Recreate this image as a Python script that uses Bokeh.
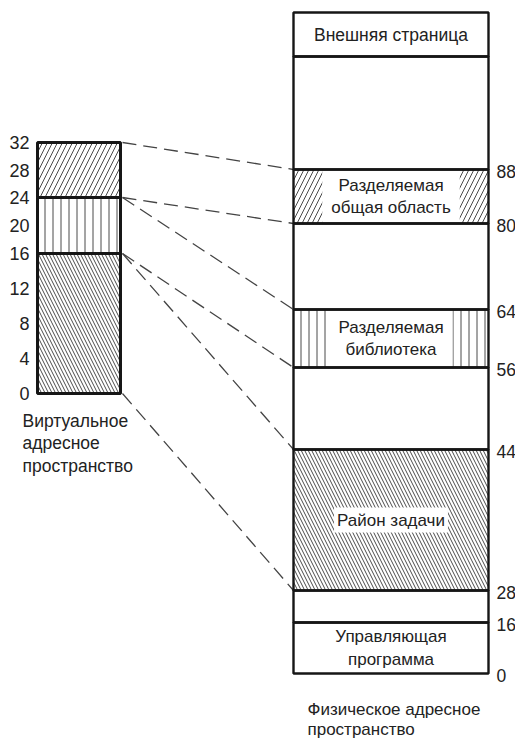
import numpy as np
from bokeh.plotting import figure
from bokeh.models import Range1d
from bokeh.core.properties import value
from bokeh.embed import file_html
from bokeh.resources import INLINE

# ---------------- data ----------------
virt_ticks = [0, 4, 8, 12, 16, 20, 24, 28, 32]
virt_starts = [0, 16, 24]
virt_ends = [16, 24, 32]
virt_hatch = ["\\", "|", "/"]

phys_ticks = [0, 16, 28, 44, 56, 64, 80, 88]
phys_starts = [0, 16, 28, 44, 56, 64, 80]
phys_ends = [16, 28, 44, 56, 64, 80, 88]
phys_labels = ["Управляющая\nпрограмма", "", "Район задачи", "",
               "Разделяемая\nбиблиотека", "", "Разделяемая\nобщая область"]
phys_hatch = [" ", " ", "\\", " ", "|", " ", "/"]
upper_labels = ["", "Внешняя страница"]      # blocks above address 88

map_virt = [32, 24, 24, 16, 16, 0]           # virtual address ...
map_phys = [88, 80, 64, 56, 44, 28]          # ... mapped onto physical address

virt_title = "Виртуальное\nадресное\nпространство"
phys_title = "Физическое адресное\nпространство"

# ---------------- layout (schematic, not to scale) ----------------
W, H = 515, 744
VX0, VX1 = 37, 120
PX0, PX1 = 293, 488
VIRT_IN, VIRT_OUT = [0, 16, 24, 32], [393, 253, 197, 142]
PHYS_IN = [0, 16, 28, 44, 56, 64, 80, 88]
PHYS_OUT = [673, 622, 590, 449, 367, 309, 223, 169]
UPPER_HEIGHTS = [113, 44]
HATCH_SCALE = {"\\": 7, "/": 10, "|": 8, " ": 8}
FONT = value("Liberation Sans")
INK = "#161616"
TXT = "#222222"


def vy(a):
    return list(np.interp(a, VIRT_IN, VIRT_OUT))


def py(a):
    return list(np.interp(a, PHYS_IN, PHYS_OUT))


p = figure(width=W, height=H, output_backend="svg", toolbar_location=None,
           x_range=Range1d(0, W), y_range=Range1d(H, 0),
           min_border=0, outline_line_color=None)
p.axis.visible = False
p.grid.visible = False
p.background_fill_color = "white"
p.border_fill_color = "white"

# dashed mapping lines
p.segment(x0=[VX1 + 2] * len(map_virt), y0=vy(map_virt),
          x1=[PX0] * len(map_phys), y1=py(map_phys),
          line_color="#444444", line_width=1.3, line_dash="14 7")

# virtual column
for s, e, hp in zip(virt_starts, virt_ends, virt_hatch):
    p.quad(left=[VX0], right=[VX1], top=vy([e]), bottom=vy([s]),
           fill_color="white", line_color=None, hatch_pattern=hp,
           hatch_color="#4a4a4a", hatch_weight=1.0, hatch_scale=HATCH_SCALE[hp])
p.quad(left=[VX0] * 3, right=[VX1] * 3, top=vy(virt_ends), bottom=vy(virt_starts),
       fill_color=None, line_color=INK, line_width=3)
p.text(x=[VX0 - 8] * len(virt_ticks), y=vy(virt_ticks), text=[str(t) for t in virt_ticks],
       text_align="right", text_baseline="middle", text_font=FONT,
       text_font_size="18px", text_color=TXT)
p.text(x=[22], y=[443], text=[virt_title], text_align="left", text_baseline="middle",
       text_font=FONT, text_font_size="17.5px", text_color=TXT, text_line_height=1.13)

# physical column
tops = py(phys_ends)
bots = py(phys_starts)
xc = (PX0 + PX1) / 2
for s, e, hp in zip(phys_starts, phys_ends, phys_hatch):
    if hp.strip():
        p.quad(left=[PX0], right=[PX1], top=py([e]), bottom=py([s]),
               fill_color="white", line_color=None, hatch_pattern=hp,
               hatch_color="#4a4a4a", hatch_weight=1.0, hatch_scale=HATCH_SCALE[hp])

up_bottoms = [PHYS_OUT[-1]]
for h in UPPER_HEIGHTS:
    up_bottoms.append(up_bottoms[-1] - h)
up_tops = up_bottoms[1:]
up_bottoms = up_bottoms[:-1]

# labels inside boxes
for lab, hp, t, b in zip(phys_labels, phys_hatch, tops, bots):
    if not lab:
        continue
    kw = dict(x=[xc], y=[(t + b) / 2], text=[lab], text_align="center",
              text_baseline="middle", text_font=FONT, text_font_size="17px",
              text_color=TXT, text_line_height=1.18)
    if hp.strip():
        kw.update(background_fill_color="white", padding=(3 if "\n" not in lab else 9))
    p.text(**kw)
for lab, t, b in zip(upper_labels, up_tops, up_bottoms):
    if lab:
        p.text(x=[xc], y=[(t + b) / 2], text=[lab], text_align="center",
               text_baseline="middle", text_font=FONT, text_font_size="17.5px",
               text_color=TXT)

# box outlines
n = len(phys_starts)
p.quad(left=[PX0] * n, right=[PX1] * n, top=tops, bottom=bots,
       fill_color=None, line_color=INK, line_width=2.4)
p.quad(left=[PX0] * 2, right=[PX1] * 2, top=up_tops, bottom=up_bottoms,
       fill_color=None, line_color=INK, line_width=2.4)

# physical address labels
p.text(x=[496] * len(phys_ticks), y=[v + 2 for v in py(phys_ticks)],
       text=[str(t) for t in phys_ticks], text_align="left", text_baseline="middle",
       text_font=FONT, text_font_size="17.5px", text_color=TXT)

p.text(x=[307], y=[719], text=[phys_title], text_align="left", text_baseline="middle",
       text_font=FONT, text_font_size="17px", text_color=TXT, text_line_height=1.1)

open("out.html", "w").write(file_html(p, INLINE))
